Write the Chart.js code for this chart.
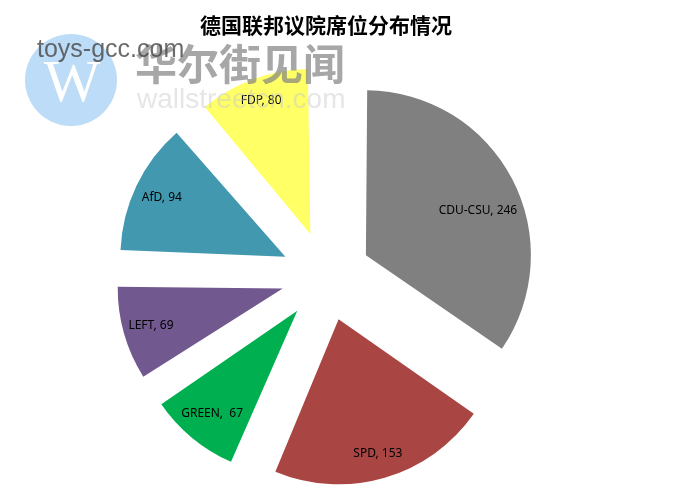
<!DOCTYPE html>
<html lang="zh">
<head>
  <meta charset="UTF-8">
  <title>德国联邦议院席位分布情况</title>
  <style>
    html, body {
      margin: 0;
      padding: 0;
      background-color: #ffffff;
    }

    #chart-container {
      width: 674px;
      height: 502px;
    }
  </style>
</head>
<body>

  <div id="chart-container">
    <canvas id="seatChart"></canvas>
  </div>

  <script src="https://cdn.jsdelivr.net/npm/chart.js"></script>

  <script>
    // Seat data
    const parties = ['CDU-CSU', 'SPD', 'GREEN', 'LEFT', 'AfD', 'FDP'];
    const seats = [246, 153, 67, 69, 94, 80];
    const colors = ['#808080', '#A94644', '#00B050', '#71588F', '#4198AF', '#FFFF66'];
    const dataLabels = ['CDU-CSU, 246', 'SPD, 153', 'GREEN,  67', 'LEFT, 69', 'AfD, 94', 'FDP, 80'];

    const R = 165;        // pie radius
    const EXPLODE = 45;   // how far each slice is pulled out
    // label spot inside each slice: fraction of radius, and turn in degrees from the slice middle
    const labelDist = [0.73, 0.85, 0.81, 0.83, 0.83, 0.86];
    const labelTurn = [6, 0, 0, 0, 0, 0];

    // Chart.js grows small slices when offset is set; keep all slices the same radius
    const sameRadius = {
      id: 'sameRadius',
      afterDatasetsUpdate(chart) {
        const arcs = chart.getDatasetMeta(0).data;
        arcs.forEach(arc => {
          const fix = 1 - Math.sin(Math.min(Math.PI, arc.circumference));
          arc.outerRadius = R - (EXPLODE * fix);
        });
      }
    };

    // labels inside the slices
    const sliceLabels = {
      id: 'sliceLabels',
      afterDatasetsDraw(chart) {
        const ctx = chart.ctx;
        const arcs = chart.getDatasetMeta(0).data;
        ctx.save();
        ctx.font = '12px "Noto Sans", sans-serif';
        ctx.fillStyle = '#000000';
        ctx.textAlign = 'center';
        ctx.textBaseline = 'middle';
        arcs.forEach((arc, i) => {
          const mid = (arc.startAngle + arc.endAngle) / 2;
          const ax = arc.x + Math.cos(mid) * EXPLODE;
          const ay = arc.y + Math.sin(mid) * EXPLODE;
          const a = mid + labelTurn[i] * Math.PI / 180;
          const d = labelDist[i] * R;
          ctx.fillText(dataLabels[i], ax + Math.cos(a) * d, ay + Math.sin(a) * d);
        });
        ctx.restore();
      }
    };

    // the site watermark over the top left corner
    const watermark = {
      id: 'watermark',
      afterDraw(chart) {
        const ctx = chart.ctx;
        ctx.save();
        ctx.fillStyle = '#BDDCF7';
        ctx.beginPath();
        ctx.arc(71, 80, 46, 0, Math.PI * 2);
        ctx.fill();

        ctx.fillStyle = '#ffffff';
        ctx.font = '60px "Liberation Serif", serif';
        ctx.textAlign = 'center';
        ctx.textBaseline = 'alphabetic';
        ctx.fillText('W', 72, 101);

        ctx.textAlign = 'left';
        ctx.font = 'bold 42px "Noto Sans CJK SC", sans-serif';
        ctx.fillStyle = 'rgba(130, 130, 130, 0.7)';
        ctx.fillText('华尔街见闻', 135, 80);

        ctx.font = '25px "Liberation Sans", sans-serif';
        ctx.fillStyle = 'rgba(70, 70, 70, 0.8)';
        ctx.fillText('toys-gcc.com', 37, 57);

        ctx.font = '28px "Liberation Sans", sans-serif';
        ctx.fillStyle = 'rgba(200, 200, 200, 0.45)';
        ctx.fillText('wallstreetcn.com', 137, 108);
        ctx.restore();
      }
    };

    document.addEventListener('DOMContentLoaded', () => {
      const ctx = document.getElementById('seatChart').getContext('2d');
      new Chart(ctx, {
        type: 'pie',
        data: {
          labels: parties,
          datasets: [{
            data: seats,
            backgroundColor: colors,
            borderWidth: 0,
            offset: EXPLODE * 4
          }]
        },
        options: {
          responsive: true,
          maintainAspectRatio: false,
          animation: false,
          radius: R,
          layout: {
            padding: { left: 0, right: 22, top: 0, bottom: 0 }
          },
          plugins: {
            legend: { display: false },
            tooltip: { enabled: false },
            title: {
              display: true,
              text: '德国联邦议院席位分布情况',
              color: '#000000',
              font: { size: 21, weight: 'bold', family: '"Noto Sans CJK SC", sans-serif' },
              padding: { top: 12, bottom: 13 }
            }
          }
        },
        plugins: [sameRadius, sliceLabels, watermark]
      });
    });
  </script>

</body>
</html>
